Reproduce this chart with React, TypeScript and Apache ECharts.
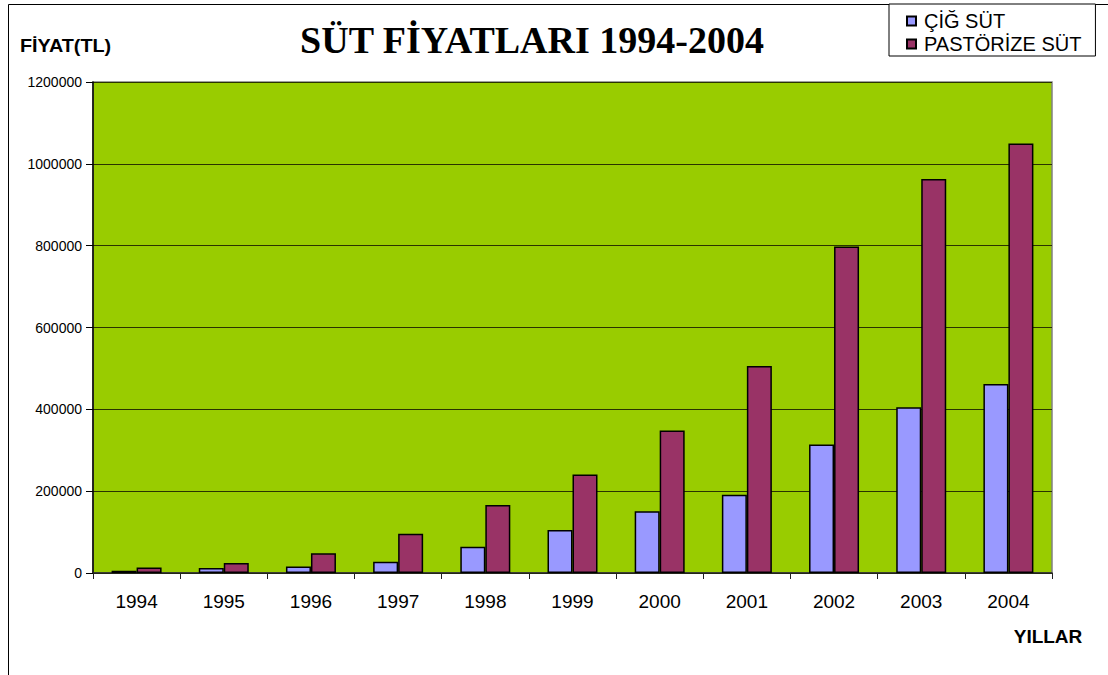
import React, { useEffect, useRef } from "react";
import * as echarts from "echarts";

const years = ["1994", "1995", "1996", "1997", "1998", "1999", "2000", "2001", "2002", "2003", "2004"];
const cigSut = [5500, 12000, 16000, 27500, 64000, 105000, 151000, 191000, 314000, 405000, 462000];
const pastorizeSut = [13500, 24500, 48000, 96000, 166000, 241000, 348000, 506000, 798000, 963000, 1050000];
const seriesNames = ["ÇİĞ SÜT", "PASTÖRİZE SÜT"];
const titleText = "SÜT FİYATLARI 1994-2004";
const yName = "FİYAT(TL)";
const xName = "YILLAR";

export default function App() {
  const ref = useRef<HTMLDivElement>(null);
  useEffect(() => {
    if (!ref.current) return;
    const chart = echarts.init(ref.current, undefined, { renderer: "svg" });
    chart.setOption({
      animation: false,
      backgroundColor: "#ffffff",
      textStyle: { fontFamily: "Liberation Sans, Arial, sans-serif" },
      grid: {
        left: 93,
        right: 56,
        top: 82,
        bottom: 102,
        show: true,
        backgroundColor: "#99CC00",
        borderColor: "#808080",
        borderWidth: 1.5,
      },
      legend: {
        orient: "vertical",
        left: 889,
        top: 4,
        padding: [7, 14, 2, 17],
        itemGap: 3,
        itemWidth: 9,
        itemHeight: 9,
        icon: "rect",
        borderColor: "#000",
        borderWidth: 1,
        backgroundColor: "#fff",
        textStyle: { fontSize: 20, color: "#000", lineHeight: 20, padding: [0, 0, 0, 3] },
        data: seriesNames,
      },
      xAxis: {
        type: "category",
        data: years,
        axisLine: { lineStyle: { color: "#222", width: 1.5 } },
        axisTick: { show: true, length: 6, lineStyle: { color: "#222" } },
        axisLabel: { fontSize: 19, color: "#000", margin: 19 },
        splitLine: { show: false },
      },
      yAxis: {
        type: "value",
        min: 0,
        max: 1200000,
        interval: 200000,
        axisLine: { show: true, lineStyle: { color: "#000", width: 1.5 } },
        axisTick: { show: true, length: 7, lineStyle: { color: "#000" } },
        axisLabel: { fontSize: 14, color: "#000", margin: 11, formatter: (v: number) => String(v) },
        splitLine: { show: true, lineStyle: { color: "#2a3300", width: 1 } },
      },
      graphic: [
        {
          type: "rect",
          shape: { x: 8.5, y: 4.5, width: 2000, height: 2000 },
          style: { fill: "none", stroke: "#000", lineWidth: 1 },
          silent: true,
          z: -1,
        },
        {
          type: "text",
          x: 532,
          y: 40,
          style: {
            text: titleText,
            fontFamily: "Liberation Serif, Times New Roman, serif",
            fontWeight: "bold",
            fontSize: 38,
            fill: "#000",
            textAlign: "center",
            textVerticalAlign: "middle",
          },
        },
        {
          type: "text",
          x: 20,
          y: 46,
          scaleX: 1.1,
          style: {
            text: yName,
            fontFamily: "Liberation Sans, Arial, sans-serif",
            fontWeight: "bold",
            fontSize: 18,
            fill: "#000",
            textAlign: "left",
            textVerticalAlign: "middle",
          },
        },
        {
          type: "text",
          x: 1048,
          y: 636,
          style: {
            text: xName,
            fontFamily: "Liberation Sans, Arial, sans-serif",
            fontWeight: "bold",
            fontSize: 19,
            fill: "#000",
            textAlign: "center",
            textVerticalAlign: "middle",
          },
        },
      ],
      series: [
        {
          name: seriesNames[0],
          type: "bar",
          data: cigSut,
          barWidth: 25,
          barGap: "0%",
          itemStyle: { color: "#9999FF", borderColor: "#000", borderWidth: 1.5 },
        },
        {
          name: seriesNames[1],
          type: "bar",
          data: pastorizeSut,
          barWidth: 25,
          barGap: "0%",
          itemStyle: { color: "#993366", borderColor: "#000", borderWidth: 1.5 },
        },
      ],
    });
    return () => chart.dispose();
  }, []);
  return (
    <div
      ref={ref}
      style={{ position: "absolute", left: 0, top: 0, width: 1108, height: 675 }}
    />
  );
}
